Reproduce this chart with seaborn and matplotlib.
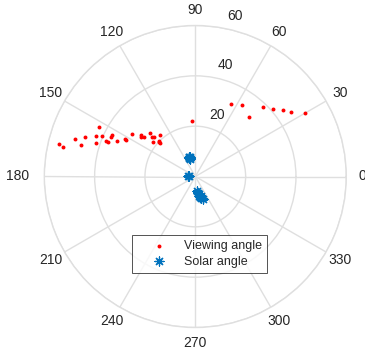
import numpy as np
import pandas as pd
import matplotlib
matplotlib.use("Agg")
import matplotlib.pyplot as plt
import seaborn as sns

sns.set_style("white")
plt.rcParams['font.family'] = ['Liberation Sans', 'DejaVu Sans']

# Viewing angle: azimuth (deg) and zenith (radial)
view_az = [166.6, 167.6, 162.6, 164.4, 160.3, 157.7, 161.4, 152.6, 156.5, 158.5,
           158.2, 154.9, 153.4, 155.3, 152.2, 152.5, 146.3, 142.8, 144.2, 142.0,
           136.2, 137.8, 140.4, 136.3, 135.4, 136.5, 129.9, 136.2,
           93.1,
           63.5, 56.9, 48.2, 45.6, 40.9, 37.1, 34.0, 30.3]
view_r = [55.7, 53.9, 49.9, 47.0, 46.4, 42.8, 41.6, 43.0, 40.3, 38.1,
          37.2, 37.0, 36.9, 34.1, 31.7, 31.2, 30.4, 27.2, 26.6, 25.7,
          24.8, 23.2, 21.7, 22.5, 20.3, 19.5, 21.7, 19.8,
          22.2,
          32.1, 33.9, 31.9, 38.5, 40.8, 43.6, 46.0, 50.3]

# Solar angle
sun_az = [106.0, 108.0, 107.0, 110.0, 105.0, 108.5,
          178.0, 176.0,
          276.0, 283.0, 289.0, 281.0, 285.0, 279.0, 287.0, 282.0]
sun_r = [7.5, 8.0, 8.3, 7.8, 8.1, 7.2,
         2.7, 2.9,
         5.6, 8.4, 9.6, 7.2, 9.0, 6.5, 8.0, 7.8]

theta_ticks = list(range(0, 360, 30))
theta_labels = [str(t) for t in theta_ticks]
r_ticks = [20, 40, 60]
r_labels = ["20", "40", "60"]

view_df = pd.DataFrame({"theta": np.deg2rad(view_az), "r": view_r})
sun_df = pd.DataFrame({"theta": np.deg2rad(sun_az), "r": sun_r})

W, H = 365, 361
fig = plt.figure(figsize=(W / 100, H / 100), dpi=100)
cx, cy, R = 195.3, 176.5, 151.0
ax = fig.add_axes([(cx - R) / W, (H - cy - R) / H, 2 * R / W, 2 * R / H],
                  projection='polar')

gridc = '#dfdfdf'
txtc = '#262626'
sns.scatterplot(data=view_df, x="theta", y="r", ax=ax, color='#ff0000',
                marker='o', s=8, linewidth=0, label='Viewing angle', zorder=3)
sns.scatterplot(data=sun_df, x="theta", y="r", ax=ax, color='#0072BD',
                marker=(8, 2, 0), s=42, linewidth=0.9, label='Solar angle', zorder=3)

ax.set_xlabel("")
ax.set_ylabel("")
ax.set_rlim(0, 60)
ax.set_thetagrids(theta_ticks, labels=[""] * len(theta_ticks))
ax.set_rticks(r_ticks)
ax.set_yticklabels([])
ax.tick_params(axis='both', length=0)
ax.grid(True, color=gridc, linewidth=1.0)
ax.spines['polar'].set_color(gridc)
ax.spines['polar'].set_linewidth(1.0)

# theta labels placed outside the outer ring (MATLAB-like)
for t, lab in zip(theta_ticks, theta_labels):
    rr = 60 * (1.175 if t == 180 else 1.105)
    ax.text(np.deg2rad(t), rr, lab, ha='center', va='center',
            fontsize=10, color=txtc, clip_on=False)

for v, lab in zip(r_ticks, r_labels):
    ax.annotate(lab, xy=(np.deg2rad(80), v), xytext=(13, 12),
                textcoords='offset pixels', ha='center', va='center',
                fontsize=10, color=txtc)

leg = ax.legend(loc='upper left', bbox_to_anchor=(131.7 / W, 1 - 235 / H),
                bbox_transform=fig.transFigure, borderaxespad=0,
                frameon=True, fancybox=False, edgecolor=txtc,
                fontsize=9, borderpad=0.4, handlelength=3.5,
                handletextpad=0.25, labelspacing=0.3)
leg.get_frame().set_linewidth(0.7)
leg.set_zorder(5)

fig.savefig("out.png", dpi=100)
